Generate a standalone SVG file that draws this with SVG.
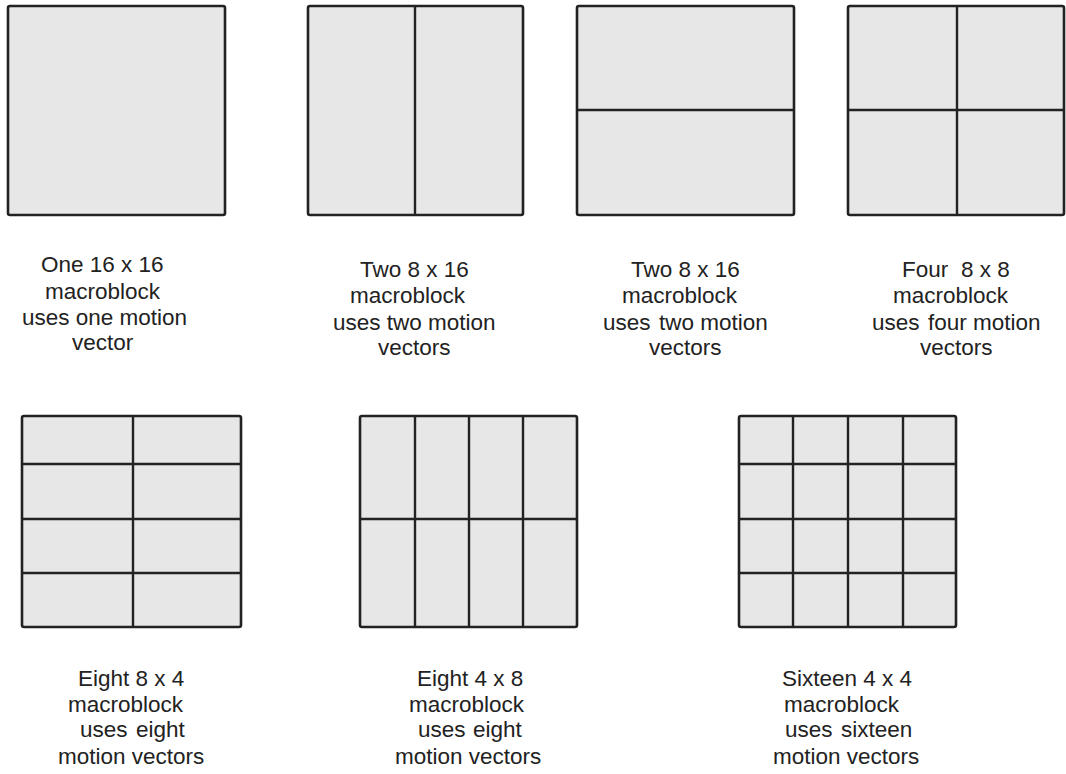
<svg xmlns="http://www.w3.org/2000/svg" width="1066" height="774" viewBox="0 0 1066 774">
<style>
.box{fill:#e7e7e7;stroke:#222;stroke-width:2.6}
.div{stroke:#222;stroke-width:2.4;fill:none}
.t{font-family:"Liberation Sans",Arial,sans-serif;font-size:22.5px;fill:#222}
</style>
<rect width="1066" height="774" fill="#fff"/>
<g id="block1">
<rect class="box" x="8" y="6" width="217" height="209" rx="2"/>
</g>
<g id="block2">
<rect class="box" x="308" y="6" width="215" height="209" rx="2"/>
<path class="div" d="M415 6V215"/>
</g>
<g id="block3">
<rect class="box" x="577" y="6" width="217" height="209" rx="2"/>
<path class="div" d="M577 110H794"/>
</g>
<g id="block4">
<rect class="box" x="848" y="6" width="216" height="209" rx="2"/>
<path class="div" d="M957 6V215M848 110H1064"/>
</g>
<g id="block5">
<rect class="box" x="22" y="416" width="219" height="211" rx="2"/>
<path class="div" d="M133 416V627M22 464H241M22 519H241M22 573H241"/>
</g>
<g id="block6">
<rect class="box" x="360" y="416" width="217" height="211" rx="2"/>
<path class="div" d="M415 416V627M469 416V627M523 416V627M360 519H577"/>
</g>
<g id="block7">
<rect class="box" x="739" y="416" width="217" height="211" rx="2"/>
<path class="div" d="M793 416V627M848 416V627M903 416V627M739 464H956M739 519H956M739 573H956"/>
</g>
<g id="labels" class="t">
<text x="41" y="272">One 16 x 16</text>
<text x="45" y="299">macroblock</text>
<text x="22" y="325">uses one motion</text>
<text x="72" y="350">vector</text>
<text x="360" y="277">Two 8 x 16</text>
<text x="350" y="303">macroblock</text>
<text x="333" y="330">uses two motion</text>
<text x="378" y="355">vectors</text>
<text x="631" y="277">Two 8 x 16</text>
<text x="622" y="303">macroblock</text>
<text x="603" y="330">uses <tspan x="659">two motion</tspan></text>
<text x="649" y="355">vectors</text>
<text x="902" y="277">Four <tspan x="961">8 x 8</tspan></text>
<text x="893" y="303">macroblock</text>
<text x="872" y="330">uses <tspan x="928">four motion</tspan></text>
<text x="920" y="355">vectors</text>
<text x="78" y="686">Eight 8 x 4</text>
<text x="68" y="712">macroblock</text>
<text x="80" y="737">uses <tspan x="136">eight</tspan></text>
<text x="58" y="764">motion vectors</text>
<text x="417" y="686">Eight 4 x 8</text>
<text x="409" y="712">macroblock</text>
<text x="418" y="737">uses <tspan x="473">eight</tspan></text>
<text x="395" y="764">motion vectors</text>
<text x="782" y="686">Sixteen 4 x 4</text>
<text x="784" y="712">macroblock</text>
<text x="785" y="737">uses <tspan x="841">sixteen</tspan></text>
<text x="773" y="764">motion vectors</text>
</g>
</svg>
